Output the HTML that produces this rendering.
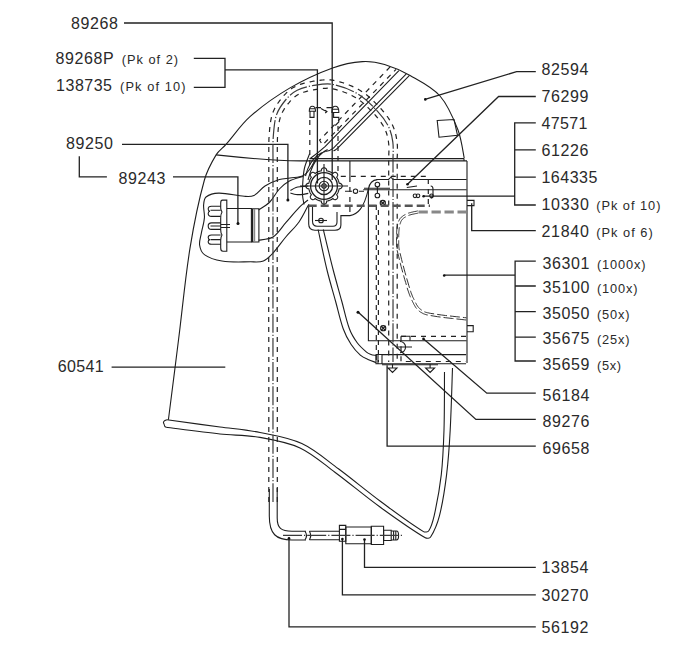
<!DOCTYPE html>
<html><head><meta charset="utf-8">
<style>
html,body{margin:0;padding:0;background:#fff;}
body{width:689px;height:645px;overflow:hidden;}
svg{display:block;}
text{font-family:"Liberation Sans",sans-serif;fill:#2a2a2a;}
.n{font-size:16px;}
.s{font-size:12.8px;}
.L{fill:none;stroke:#222;stroke-width:1.3;}
.d{fill:none;stroke:#1e1e1e;stroke-width:1.1;}
.ds{fill:none;stroke:#222;stroke-width:1.2;stroke-dasharray:5 5;}
.dd{fill:none;stroke:#3a3a3a;stroke-width:1.2;stroke-dasharray:19 2 1.2 2;}
.tk{fill:none;stroke:#888;stroke-width:3;stroke-dasharray:8 4;}
</style></head><body>
<svg width="689" height="645" viewBox="0 0 689 645">
<!-- LABELS -->
<g class="n">
<text x="71" y="28.9" textLength="47" lengthAdjust="spacing">89268</text>
<text x="55.4" y="63.5" textLength="58.2" lengthAdjust="spacing">89268P</text>
<text x="56.1" y="90.7" textLength="55.9" lengthAdjust="spacing">138735</text>
<text x="66" y="149.3" textLength="47" lengthAdjust="spacing">89250</text>
<text x="118.5" y="184.3" textLength="46.8" lengthAdjust="spacing">89243</text>
<text x="57.7" y="371.8" textLength="46" lengthAdjust="spacing">60541</text>
<text x="541.4" y="75.0" textLength="47.1" lengthAdjust="spacing">82594</text>
<text x="541.4" y="102.0" textLength="47.1" lengthAdjust="spacing">76299</text>
<text x="541.4" y="129.2" textLength="46" lengthAdjust="spacing">47571</text>
<text x="541.4" y="155.9" textLength="47.1" lengthAdjust="spacing">61226</text>
<text x="541.4" y="183.4" textLength="56" lengthAdjust="spacing">164335</text>
<text x="541.5" y="209.6" textLength="47.3" lengthAdjust="spacing">10330</text>
<text x="541.5" y="236.9" textLength="47.3" lengthAdjust="spacing">21840</text>
<text x="542.4" y="268.7" textLength="47" lengthAdjust="spacing">36301</text>
<text x="542.4" y="293.2" textLength="47" lengthAdjust="spacing">35100</text>
<text x="542.4" y="318.7" textLength="47" lengthAdjust="spacing">35050</text>
<text x="542.4" y="344.2" textLength="47" lengthAdjust="spacing">35675</text>
<text x="542.4" y="369.7" textLength="47" lengthAdjust="spacing">35659</text>
<text x="542.4" y="401.1" textLength="47" lengthAdjust="spacing">56184</text>
<text x="542.4" y="427.0" textLength="47" lengthAdjust="spacing">89276</text>
<text x="542.4" y="453.7" textLength="47" lengthAdjust="spacing">69658</text>
<text x="541.5" y="573.0" textLength="47" lengthAdjust="spacing">13854</text>
<text x="541.5" y="601.0" textLength="47" lengthAdjust="spacing">30270</text>
<text x="541.5" y="633.0" textLength="47" lengthAdjust="spacing">56192</text>
</g>
<g class="s">
<text x="121.8" y="63.5" textLength="56.2" lengthAdjust="spacing">(Pk of 2)</text>
<text x="120.1" y="90.7" textLength="65.3" lengthAdjust="spacing">(Pk of 10)</text>
<text x="596.2" y="209.6" textLength="64.2" lengthAdjust="spacing">(Pk of 10)</text>
<text x="596.2" y="236.9" textLength="56.5" lengthAdjust="spacing">(Pk of 6)</text>
<text x="597" y="268.7" textLength="48.5" lengthAdjust="spacing">(1000x)</text>
<text x="597" y="293.2" textLength="40.5" lengthAdjust="spacing">(100x)</text>
<text x="597" y="318.7" textLength="32.5" lengthAdjust="spacing">(50x)</text>
<text x="597" y="344.2" textLength="32.5" lengthAdjust="spacing">(25x)</text>
<text x="597" y="369.7" textLength="24" lengthAdjust="spacing">(5x)</text>
</g>
<!-- LEADERS -->
<g class="L">
<path d="M124,23H332.2V180"/>
<path d="M193.8,58.3H225V87.3H193.8M225,69.8H317.4V183.5"/>
<path d="M122,144.3H287.9V199.7"/>
<path d="M79.3,156.2V176.8H106.9M173,176.8H237.9V223.5"/>
<path d="M111.6,367.1H225.3"/>
<path d="M425,99.3L516.6,71.7H535.8"/>
<path d="M407.5,184.3L498.6,96.5H535.8"/>
<path d="M535.8,122.9H514.7V205H535.8M514.7,149.8H535.8M514.7,177.1H535.8M423.6,196.2H514.7"/>
<path d="M471.7,203.2V230.6H535.8"/>
<path d="M535.8,261.1H515.1V361H535.8M515.1,286H535.8M515.1,311.6H535.8M515.1,337.2H535.8M444.3,275.1H515.1"/>
<path d="M423.6,339L486.8,393.2H535.8"/>
<path d="M358,312L475.9,419.4H535.8"/>
<path d="M387.1,365.3V446.1H535.8"/>
<path d="M364.5,539.5V567.3H535.8"/>
<path d="M342.4,539V594.8H535.8"/>
<path d="M289,538.3V626.9H535.8"/>
</g>

<!-- DRAWING -->
<g fill="#111">
<circle cx="238" cy="223.4" r="1.5"/>
<circle cx="287.9" cy="200" r="1.5"/>
<circle cx="425.3" cy="99.4" r="1.3"/>
<circle cx="407.5" cy="184.3" r="1.3"/>
<circle cx="423.6" cy="196.2" r="1.3"/>
<circle cx="444.2" cy="275.5" r="1.3"/>
<circle cx="423.5" cy="338.9" r="1.3"/>
<circle cx="358" cy="312.3" r="1.5"/>
<circle cx="289" cy="538.3" r="1.3"/>
<circle cx="342.4" cy="539" r="1.3"/>
<circle cx="364.5" cy="539.5" r="1.3"/>
</g>
<g class="d">
<!-- shell outline -->
<path d="M168.4,419.8C170.1,406.5 175.2,366.6 178.5,340.0C182.4,309.4 185.1,278.6 190.0,248.2C193.7,225.3 198.2,202.3 204.4,180.0C206.9,171.2 211.4,162.7 216.1,154.9C218.5,150.9 222.7,148.2 225.8,144.7C234.0,135.5 240.8,124.8 250.0,116.7C262.2,105.9 275.9,96.2 290.0,87.9C303.4,80.0 317.9,73.2 332.6,67.9C342.1,64.5 352.4,62.3 362.4,61.6C369.7,61.1 377.5,62.4 384.6,64.5C393.4,67.1 402.1,71.0 410.1,75.6C420.5,81.5 432.3,87.2 440.0,96.0C448.2,105.3 453.4,118.2 458.0,130.0C461.4,138.8 463.2,153.3 464.2,158.0"/>
<!-- brim -->
<path d="M216.1,154.9C240,157.5 270,160.5 300,160.9H467"/>
<path d="M309.5,158.6H464.2M464,161V158.5M467,161V363"/>
<!-- window on shell -->
<path d="M437.2,120.5L454,119.5L457.5,135.3L439,137.2Z"/>
<!-- visor band -->
<path d="M398.9,70.7L325.3,146.4Q318,153 310.5,158.3M406.3,73.9L333.4,148.1Q330,151 325.4,151.5M409.5,75.3L337.7,148.1Q335,150.7 333.4,150.7"/>
<path d="M305.5,176Q309,162 317.4,155.4Q321,152.5 325.4,151.5M308,180Q312,164 319.6,155.4Q323,151.5 327.6,149.6"/>

<!-- clip -->
<path d="M309.3,111.2Q309.3,106.2 312.4,106.2Q315.5,106.2 315.5,111.2ZM309.6,108.8H315.3M310,111.2V117.4H314V111.2"/>
<path d="M315.5,107.6H321M326.5,107.6H332M321,108.5Q324,110.5 327,111.5M325,110.2L327,111.5L325.2,113"/>
<path d="M331.9,111.5Q331.9,106.2 335.3,106.2Q338.8,106.2 338.8,111.5V112.5H331.9ZM332,109.3H338.7M333.6,112.5V117.4H338.8V122L335.3,125.5"/>
<!-- valve -->
<circle cx="324" cy="186" r="13.4" style="stroke-width:1.3"/>
<circle cx="324" cy="186" r="8.6" style="stroke-width:1.3"/>
<circle cx="324" cy="186" r="4.8"/>
<circle cx="324" cy="186" r="2.2"/>
<path d="M300,186H348M324,164V207"/>
<circle cx="355.5" cy="191.2" r="2.2"/>
<path d="M345,191.2H352M359,191.2H364"/>
<path d="M342.2,186.0 L342.2,186.4 L342.1,186.7 L342.0,187.1 L341.8,187.4 L341.6,187.7 L341.3,188.0 L340.9,188.3 L340.3,188.6 L339.2,188.7 L339.1,189.0 L339.0,189.3 L339.0,189.6 L338.9,189.9 L338.8,190.2 L338.7,190.5 L338.6,190.8 L338.6,191.0 L338.4,191.3 L338.3,191.6 L338.2,191.9 L338.1,192.2 L338.0,192.4 L337.9,192.7 L337.7,193.0 L337.6,193.3 L337.4,193.5 L337.3,193.8 L337.1,194.0 L337.0,194.3 L336.8,194.6 L336.6,194.8 L337.3,195.7 L337.6,196.3 L337.7,196.8 L337.7,197.2 L337.6,197.6 L337.5,198.0 L337.3,198.3 L337.1,198.6 L336.9,198.9 L336.6,199.1 L336.3,199.3 L336.0,199.5 L335.6,199.6 L335.2,199.7 L334.8,199.7 L334.3,199.6 L333.7,199.3 L332.8,198.6 L332.6,198.8 L332.3,199.0 L332.0,199.1 L331.8,199.3 L331.5,199.4 L331.3,199.6 L331.0,199.7 L330.7,199.9 L330.4,200.0 L330.2,200.1 L329.9,200.2 L329.6,200.3 L329.3,200.4 L329.0,200.6 L328.8,200.6 L328.5,200.7 L328.2,200.8 L327.9,200.9 L327.6,201.0 L327.3,201.0 L327.0,201.1 L326.7,201.2 L326.6,202.3 L326.3,202.9 L326.0,203.3 L325.7,203.6 L325.4,203.8 L325.1,204.0 L324.7,204.1 L324.4,204.2 L324.0,204.2 L323.6,204.2 L323.3,204.1 L322.9,204.0 L322.6,203.8 L322.3,203.6 L322.0,203.3 L321.7,202.9 L321.4,202.3 L321.3,201.2 L321.0,201.1 L320.7,201.0 L320.4,201.0 L320.1,200.9 L319.8,200.8 L319.5,200.7 L319.2,200.6 L319.0,200.6 L318.7,200.4 L318.4,200.3 L318.1,200.2 L317.8,200.1 L317.6,200.0 L317.3,199.9 L317.0,199.7 L316.7,199.6 L316.5,199.4 L316.2,199.3 L316.0,199.1 L315.7,199.0 L315.4,198.8 L315.2,198.6 L314.3,199.3 L313.7,199.6 L313.2,199.7 L312.8,199.7 L312.4,199.6 L312.0,199.5 L311.7,199.3 L311.4,199.1 L311.1,198.9 L310.9,198.6 L310.7,198.3 L310.5,198.0 L310.4,197.6 L310.3,197.2 L310.3,196.8 L310.4,196.3 L310.7,195.7 L311.4,194.8 L311.2,194.6 L311.0,194.3 L310.9,194.0 L310.7,193.8 L310.6,193.5 L310.4,193.3 L310.3,193.0 L310.1,192.7 L310.0,192.4 L309.9,192.2 L309.8,191.9 L309.7,191.6 L309.6,191.3 L309.4,191.0 L309.4,190.8 L309.3,190.5 L309.2,190.2 L309.1,189.9 L309.0,189.6 L309.0,189.3 L308.9,189.0 L308.8,188.7 L307.7,188.6 L307.1,188.3 L306.7,188.0 L306.4,187.7 L306.2,187.4 L306.0,187.1 L305.9,186.7 L305.8,186.4 L305.8,186.0 L305.8,185.6 L305.9,185.3 L306.0,184.9 L306.2,184.6 L306.4,184.3 L306.7,184.0 L307.1,183.7 L307.7,183.4 L308.8,183.3 L308.9,183.0 L309.0,182.7 L309.0,182.4 L309.1,182.1 L309.2,181.8 L309.3,181.5 L309.4,181.2 L309.4,181.0 L309.6,180.7 L309.7,180.4 L309.8,180.1 L309.9,179.8 L310.0,179.6 L310.1,179.3 L310.3,179.0 L310.4,178.7 L310.6,178.5 L310.7,178.2 L310.9,178.0 L311.0,177.7 L311.2,177.4 L311.4,177.2 L310.7,176.3 L310.4,175.7 L310.3,175.2 L310.3,174.8 L310.4,174.4 L310.5,174.0 L310.7,173.7 L310.9,173.4 L311.1,173.1 L311.4,172.9 L311.7,172.7 L312.0,172.5 L312.4,172.4 L312.8,172.3 L313.2,172.3 L313.7,172.4 L314.3,172.7 L315.2,173.4 L315.4,173.2 L315.7,173.0 L316.0,172.9 L316.2,172.7 L316.5,172.6 L316.7,172.4 L317.0,172.3 L317.3,172.1 L317.6,172.0 L317.8,171.9 L318.1,171.8 L318.4,171.7 L318.7,171.6 L319.0,171.4 L319.2,171.4 L319.5,171.3 L319.8,171.2 L320.1,171.1 L320.4,171.0 L320.7,171.0 L321.0,170.9 L321.3,170.8 L321.4,169.7 L321.7,169.1 L322.0,168.7 L322.3,168.4 L322.6,168.2 L322.9,168.0 L323.3,167.9 L323.6,167.8 L324.0,167.8 L324.4,167.8 L324.7,167.9 L325.1,168.0 L325.4,168.2 L325.7,168.4 L326.0,168.7 L326.3,169.1 L326.6,169.7 L326.7,170.8 L327.0,170.9 L327.3,171.0 L327.6,171.0 L327.9,171.1 L328.2,171.2 L328.5,171.3 L328.8,171.4 L329.0,171.4 L329.3,171.6 L329.6,171.7 L329.9,171.8 L330.2,171.9 L330.4,172.0 L330.7,172.1 L331.0,172.3 L331.3,172.4 L331.5,172.6 L331.8,172.7 L332.0,172.9 L332.3,173.0 L332.6,173.2 L332.8,173.4 L333.7,172.7 L334.3,172.4 L334.8,172.3 L335.2,172.3 L335.6,172.4 L336.0,172.5 L336.3,172.7 L336.6,172.9 L336.9,173.1 L337.1,173.4 L337.3,173.7 L337.5,174.0 L337.6,174.4 L337.7,174.8 L337.7,175.2 L337.6,175.7 L337.3,176.3 L336.6,177.2 L336.8,177.4 L337.0,177.7 L337.1,178.0 L337.3,178.2 L337.4,178.5 L337.6,178.7 L337.7,179.0 L337.9,179.3 L338.0,179.6 L338.1,179.8 L338.2,180.1 L338.3,180.4 L338.4,180.7 L338.6,181.0 L338.6,181.2 L338.7,181.5 L338.8,181.8 L338.9,182.1 L339.0,182.4 L339.0,182.7 L339.1,183.0 L339.2,183.3 L340.3,183.4 L340.9,183.7 L341.3,184.0 L341.6,184.3 L341.8,184.6 L342.0,184.9 L342.1,185.3 L342.2,185.6Z"/>
<!-- bracket -->
<path d="M308.7,204.4V224Q308.7,230.2 315,230.2H335Q340.9,230.2 340.9,225V215.6H350"/>
<path d="M312.5,206V221Q312.5,226.2 317,226.2H333Q337,226.2 337,222V212"/>
<circle cx="321" cy="220.5" r="2.3"/>
<path d="M315,220.5H327"/>
<path d="M350,215.6C358,214 364,208 368.4,189Q370,180 377.4,179.6"/>
<!-- vertical near valve -->
<path d="M349.9,161V177"/><path class="ds" d="M349.9,177V215"/>
<!-- faceshield frame -->
<path d="M368.4,189V340.8H466.6"/>
<path d="M376.3,179.5H388.5L391,177.2L393,179.5H466.6M363.2,189.7H466.6M364,188.2H390"/>
<circle cx="377.4" cy="184.6" r="2.3"/>
<circle cx="377.4" cy="195.5" r="2.3"/>
<path d="M377.4,186.9V193.2"/>
<circle cx="382.8" cy="203" r="2.6"/>
<path d="M380.5,201L385,205M385,201L380.5,205"/>
<circle cx="383.2" cy="328.2" r="2.6"/>
<path d="M381,326L385.5,330.5M385.5,326L381,330.5"/>
<circle cx="415" cy="195.8" r="1.8"/><circle cx="418" cy="195.8" r="1.8"/>
<circle cx="431.5" cy="195.8" r="1.8"/>
<path d="M430.7,186Q433,186 433,189V196Q433,198 430.7,198M406.8,187.5L417,186"/>

<path d="M467,325.6H473.2V331.7H467"/>
<path d="M467,200.4H474V205.6H467"/>
<!-- window double line -->
<path style="stroke-dasharray:10 3;stroke-width:0.9" d="M418.2,213.1 L417.7,213.2 L417.1,213.3 L416.4,213.5 L415.6,213.6 L414.7,213.8 L413.8,214.0 L412.8,214.2 L411.9,214.4 L410.9,214.7 L410.0,214.9 L409.2,215.2 L408.4,215.5 L407.8,215.8 L407.2,216.0 L406.6,216.3 L406.0,216.6 L405.4,217.0 L404.8,217.3 L404.3,217.7 L403.8,218.0 L403.3,218.4 L402.8,218.8 L402.4,219.2 L402.1,219.7 L401.7,220.2 L401.4,220.7 L401.1,221.2 L400.8,221.8 L400.6,222.5 L400.4,223.1 L400.1,223.8 L400.0,224.4 L399.8,225.1 L399.6,225.8 L399.5,226.5 L399.4,227.2 L399.2,228.2 L399.1,229.3 L399.0,230.3 L398.9,231.4 L398.8,232.4 L398.8,233.5 L398.8,234.6 L398.7,235.7 L398.7,236.7 L398.7,237.8 L398.7,238.9 L398.7,240.0 L398.7,240.8 L398.7,241.7 L398.7,242.5 L398.7,243.3 L398.7,244.2 L398.7,245.0 L398.8,245.8 L398.8,246.6 L398.9,247.4 L399.0,248.2 L399.1,249.0 L399.3,249.8 L400.0,253.0 L400.8,256.2 L401.6,259.5 L402.4,262.7 L403.3,265.9 L404.1,269.1 L405.0,272.4 L405.9,275.6 L406.8,278.8 L407.8,282.0 L408.7,285.2 L409.7,288.4 L409.9,289.3 L410.2,290.3 L410.6,291.2 L410.9,292.2 L411.2,293.1 L411.6,294.0 L412.0,295.0 L412.3,295.9 L412.7,296.8 L413.1,297.7 L413.6,298.6 L414.0,299.5 L414.4,300.3 L414.8,301.1 L415.2,301.9 L415.5,302.7 L416.0,303.5 L416.4,304.3 L416.8,305.0 L417.3,305.7 L417.7,306.4 L418.2,307.0 L418.7,307.6 L419.3,308.2 L419.8,308.7 L420.4,309.2 L421.0,309.7 L421.7,310.2 L422.4,310.6 L423.0,311.0 L423.8,311.4 L424.5,311.8 L425.2,312.1 L425.9,312.3 L426.7,312.5 L427.4,312.7 L430.7,313.4 L434.2,313.9 L437.9,314.5 L441.7,315.0 L445.5,315.5 L449.2,315.9 L452.8,316.3 L456.2,316.7 L459.3,317.0 L462.1,317.3 L464.5,317.6 L466.4,317.8"/>
<path style="stroke-dasharray:10 3;stroke-width:0.9" d="M417.8,210.9 L417.3,211.0 L416.7,211.2 L416.0,211.3 L415.1,211.5 L414.3,211.6 L413.3,211.8 L412.3,212.1 L411.3,212.3 L410.4,212.6 L409.4,212.8 L408.5,213.1 L407.6,213.5 L406.9,213.8 L406.3,214.1 L405.6,214.4 L405.0,214.7 L404.3,215.1 L403.7,215.4 L403.1,215.8 L402.5,216.3 L401.9,216.7 L401.3,217.2 L400.8,217.8 L400.3,218.3 L399.9,218.9 L399.5,219.6 L399.1,220.3 L398.8,221.0 L398.5,221.7 L398.3,222.4 L398.0,223.2 L397.8,223.9 L397.6,224.6 L397.5,225.4 L397.3,226.1 L397.2,226.8 L397.0,227.9 L396.9,229.0 L396.8,230.1 L396.7,231.2 L396.6,232.3 L396.6,233.4 L396.6,234.5 L396.5,235.6 L396.5,236.7 L396.5,237.8 L396.5,238.9 L396.5,240.0 L396.5,240.8 L396.5,241.7 L396.5,242.5 L396.5,243.4 L396.5,244.2 L396.5,245.1 L396.6,245.9 L396.6,246.8 L396.7,247.7 L396.8,248.5 L397.0,249.4 L397.1,250.2 L397.9,253.5 L398.7,256.7 L399.5,260.0 L400.3,263.2 L401.1,266.5 L402.0,269.7 L402.9,272.9 L403.8,276.2 L404.7,279.4 L405.7,282.6 L406.6,285.8 L407.5,289.0 L407.8,290.0 L408.2,291.0 L408.5,291.9 L408.8,292.9 L409.2,293.9 L409.5,294.8 L409.9,295.8 L410.3,296.7 L410.7,297.7 L411.1,298.6 L411.6,299.6 L412.0,300.5 L412.4,301.3 L412.8,302.1 L413.2,302.9 L413.6,303.7 L414.0,304.5 L414.5,305.3 L414.9,306.1 L415.4,306.9 L415.9,307.7 L416.5,308.4 L417.1,309.1 L417.7,309.8 L418.4,310.4 L419.0,310.9 L419.7,311.5 L420.4,312.0 L421.2,312.5 L422.0,312.9 L422.8,313.4 L423.6,313.8 L424.4,314.1 L425.3,314.4 L426.1,314.7 L427.0,314.9 L430.3,315.5 L433.9,316.1 L437.6,316.7 L441.4,317.2 L445.2,317.7 L449.0,318.1 L452.6,318.5 L456.0,318.9 L459.1,319.2 L461.9,319.5 L464.3,319.8 L466.2,320.0"/>
<!-- bottom bar -->
<path d="M382,354.6H466.1M382,363.8H466.1M376,354.5H382V363.8H376ZM378,354.5V363.8"/>
<path d="M401,336.3H410V340.8"/>
<path d="M392.5,364V368M388,368H397L392.5,372.5ZM430.1,364V368M425.6,368H434.6L430.1,372.5Z"/>
<path d="M382,364.8H438"/>
<path d="M400,341.5A5.6,5.6 0 0 1 400,352.7M398,347H412"/>
<!-- rods -->
<path d="M318.1,229.5C319.6,236.2 323.7,256.6 327.0,270.0C329.5,280.4 332.7,290.7 335.5,301.0C338.1,310.3 340.0,319.8 343.2,328.8C345.1,334.2 347.9,339.5 351.0,344.3C353.6,348.3 356.8,352.1 360.3,355.2C362.5,357.1 365.3,358.3 368.0,359.5C370.6,360.7 374.7,362.0 376.0,362.5"/>
<path d="M323.3,229.5C324.9,236.2 329.7,256.5 333.2,270.0C335.9,280.4 338.9,290.7 341.7,301.0C344.3,310.3 346.1,319.8 349.4,328.8C351.2,333.8 354.1,338.5 357.2,342.8C359.8,346.3 363.2,349.3 366.5,352.1C367.8,353.2 369.4,353.9 371.0,354.5C372.6,355.1 375.2,355.3 376.0,355.5"/>
<!-- hem + right loop -->
<path d="M167.0,419.8C175.8,421.0 202.3,424.6 220.0,427.0C233.3,428.8 246.8,429.8 260.0,432.5C274.1,435.3 288.9,437.5 301.8,443.5C315.1,449.6 326.5,460.0 338.4,468.8C352.5,479.2 365.9,490.6 380.0,501.0C394.3,511.5 408.7,522.6 423.5,531.6C425.0,532.5 427.9,532.0 428.8,530.7C431.5,526.7 433.0,520.8 434.2,515.6C437.2,502.1 439.7,488.4 441.3,474.6C443.0,459.8 443.5,444.9 444.0,430.0C444.6,410.7 444.4,381.7 444.5,372.0"/>
<path d="M166.1,427.3C175.1,428.4 202.0,432.1 220.0,434.0C233.3,435.4 246.9,435.1 260.0,437.4C273.5,439.8 287.7,442.2 300.0,447.9C312.7,453.8 323.5,463.8 334.9,472.2C350.2,483.5 364.6,495.9 380.0,507.0C394.8,517.7 409.9,528.7 425.3,537.8C426.8,538.7 429.7,538.4 430.6,537.0C434.4,531.0 437.6,523.0 439.5,515.6C442.9,502.2 444.9,488.3 446.6,474.6C448.4,459.8 449.4,444.9 450.2,430.0C451.3,409.4 452.1,378.3 452.5,368.0"/>
<path d="M167,419.8Q162,421 164,424Q164.5,427 166.1,427.3"/>
<!-- blob -->
<path d="M317.0,155.6C316.1,157.4 313.8,163.3 311.5,166.7C309.2,170.1 306.5,174.0 303.0,175.8C299.3,177.7 294.3,177.3 290.0,178.0C286.5,178.6 282.8,178.5 279.4,179.6C274.4,181.2 269.4,183.2 265.0,186.0C260.9,188.5 258.1,193.4 253.9,195.5C251.2,196.9 247.5,196.5 244.3,196.3C235.8,195.7 227.1,192.9 218.7,193.1C214.4,193.2 209.1,194.6 206.0,197.0C204.1,198.5 203.8,202.3 203.6,205.0C203.3,209.2 204.8,213.6 204.4,217.9C204.0,223.3 202.1,228.5 201.2,233.9C200.5,237.6 199.1,241.5 199.6,245.0C200.1,248.4 201.7,252.7 204.4,254.6C209.1,258.0 215.9,260.1 222.0,261.0C231.3,262.5 241.1,261.8 250.7,261.8C254.9,261.8 259.6,262.5 263.4,261.0C267.1,259.5 270.2,256.0 273.0,253.0C277.6,248.0 281.4,242.2 285.8,237.0C290.1,231.9 295.2,227.4 299.0,222.0C302.8,216.6 307.1,207.3 308.7,204.4"/>
<!-- filter -->
<path d="M226.8,208.5H251.4V242H226.8"/>
<path d="M251.4,208.8H258.9V242H251.4"/>
<path d="M252.5,209V242" style="stroke-width:1.5"/><path d="M254.5,209V242" style="stroke:#888;stroke-width:1.4"/>
<path d="M226.8,200.1H222.5Q220.7,200.1 220.7,203V208Q220.7,210 222,212Q220.7,214 220.7,218V230Q220.7,233 222,235Q220.7,237 220.7,240V248Q220.7,251.3 223,251.3H226.8Z"/>
<path d="M220.7,206.2H211.5Q208.2,206.2 208.2,209Q208.2,211.2 210,211.3Q208.2,211.5 208.2,213.5Q208.2,216.4 211.5,216.4H220.7M210.5,210.2H220.7"/>
<path d="M220.7,222.9H211.5Q208.2,222.9 208.2,226Q208.2,229.4 211.5,229.4H220.7M210.5,226H220.7"/>
<path d="M220.7,235H211.5Q208.2,235 208.2,237.5Q208.2,239.5 210,239.6Q208.2,239.8 208.2,241.5Q208.2,244.3 211.5,244.3H220.7M210.5,239.6H220.7"/>
<path d="M221,224.5H230M221,227.5H230"/>
<path d="M258.6,210.0C260.5,208.7 266.6,205.2 269.8,202.0C273.5,198.2 275.8,192.9 279.4,189.0C282.2,186.0 285.4,183.1 289.0,181.2C293.3,178.9 300.7,177.2 303.0,176.4"/>
<path d="M258.6,240.2C261.0,239.7 269.1,239.5 273.0,237.0C278.1,233.7 281.5,227.5 285.8,222.7C290.5,217.4 295.0,211.8 300.0,206.7C302.4,204.2 306.7,201.1 308.0,200.0"/>
<path d="M290.4,190.5C291.3,190.0 294.0,188.2 296.0,187.5C297.6,186.9 299.3,186.8 301.0,186.6C303.4,186.3 307.1,186.1 308.3,186.0"/>
<path d="M290.4,193.0C291.3,193.2 294.1,194.2 296.0,194.5C297.6,194.7 299.3,194.7 301.0,194.6C303.4,194.4 307.1,193.6 308.3,193.4"/>

<path d="M309.6,153.7C308.8,156.1 305.7,163.1 304.5,168.0C303.4,172.6 303.2,177.5 302.8,182.2C302.5,186.5 302.3,190.8 302.5,195.0C302.7,198.2 303.8,202.9 304.0,204.5"/>
<!-- tube bottom -->
<path d="M269.3,489V516C269.3,534 276,540 292,540H306"/>
<path d="M277.2,488V518C277.2,528 281,531.3 292,531.3H306"/>
<path d="M305,531.3Q308,535.6 305,539.8M309.4,531.3Q312,535.6 309.4,539.8"/>
<path d="M309.4,531.3H339.4M309.4,539.8H339.4"/>
<path d="M339.4,525.4H345.8V541.3H339.4ZM339.4,529.4H345.8"/>
<path d="M345.8,527H371.3V543.7H345.8Z"/>
<path d="M371.3,526.2H383.6V544.5H371.3Z"/>
<path d="M383.6,530.2H391.2V540.5H383.6Z"/>
<path d="M391.2,531H396.5Q398.6,531 398.6,535.6Q398.6,540 396.5,540H391.2M393.6,531V540M395.8,531V540"/>
</g>
<g class="ds">
<path d="M268.8,502.0 L268.8,485.5 L268.8,464.8 L268.8,440.5 L268.8,413.3 L268.8,383.7 L268.8,352.4 L268.7,319.8 L268.7,286.7 L268.7,253.5 L268.8,221.0 L268.8,189.6 L268.8,160.0 L268.8,157.9 L268.8,155.9 L268.8,153.8 L268.8,151.7 L268.8,149.6 L268.8,147.5 L268.8,145.3 L268.8,143.2 L268.9,141.1 L268.9,139.0 L269.1,136.8 L269.2,134.7 L269.4,132.9 L269.5,131.2 L269.6,129.4 L269.8,127.6 L270.0,125.8 L270.2,124.0 L270.5,122.1 L270.8,120.3 L271.2,118.5 L271.6,116.6 L272.1,114.8 L272.7,113.0 L273.3,111.5 L274.0,110.0 L274.7,108.5 L275.5,107.1 L276.3,105.7 L277.1,104.3 L278.0,103.0 L279.0,101.7 L279.9,100.4 L280.9,99.2 L281.8,98.0 L282.8,96.8 L283.6,95.8 L284.5,94.8 L285.5,93.9 L286.4,92.9 L287.4,92.0 L288.4,91.1 L289.5,90.2 L290.6,89.3 L291.7,88.5 L292.9,87.8 L294.1,87.1 L295.4,86.4 L297.0,85.7 L298.6,85.0 L300.2,84.4 L301.9,83.9 L303.5,83.4 L305.2,82.9 L306.9,82.5 L308.6,82.2 L310.2,81.8 L311.9,81.5 L313.5,81.2 L315.1,81.0 L316.6,80.7 L318.0,80.5 L319.5,80.3 L321.1,80.1 L322.6,80.0 L324.2,79.8 L325.8,79.8 L327.4,79.7 L329.0,79.8 L330.6,79.9 L332.2,80.1 L333.8,80.4 L336.1,80.9 L338.4,81.5 L340.6,82.1 L342.9,82.8 L345.1,83.5 L347.4,84.3 L349.6,85.2 L351.8,86.1 L353.9,87.1 L356.1,88.1 L358.1,89.2 L360.2,90.4 L362.1,91.7 L364.1,93.0 L365.9,94.4 L367.7,95.8 L369.5,97.4 L371.2,98.9 L372.9,100.5 L374.5,102.1 L376.1,103.7 L377.6,105.3 L379.2,106.9 L380.7,108.5 L381.8,109.7 L382.9,111.0 L383.9,112.2 L385.0,113.5 L386.0,114.8 L387.0,116.2 L388.0,117.5 L388.9,118.9 L389.8,120.3 L390.7,121.8 L391.5,123.2 L392.3,124.7 L392.9,126.0 L393.5,127.4 L394.0,128.7 L394.5,130.1 L394.9,131.5 L395.3,132.9 L395.7,134.3 L396.0,135.7 L396.3,137.1 L396.5,138.5 L396.8,139.9 L397.0,141.3 L397.2,142.9 L397.3,144.5 L397.4,146.1 L397.4,147.8 L397.4,149.3 L397.4,150.9 L397.4,152.5 L397.3,154.0 L397.3,155.6 L397.2,157.1 L397.2,158.5 L397.2,160.0 L397.2,177.5 L397.2,196.0 L397.2,215.2 L397.2,234.8 L397.2,254.4 L397.2,273.6 L397.2,292.2 L397.2,309.6 L397.2,325.7 L397.2,340.0 L397.2,352.2 L397.2,362.0"/>
<path d="M277.3,502.0 L277.3,485.5 L277.3,464.8 L277.3,440.5 L277.3,413.3 L277.3,383.7 L277.3,352.4 L277.2,319.8 L277.2,286.7 L277.2,253.5 L277.3,221.0 L277.3,189.6 L277.3,160.0 L277.3,157.9 L277.3,155.8 L277.3,153.7 L277.3,151.6 L277.3,149.6 L277.3,147.5 L277.3,145.4 L277.3,143.4 L277.4,141.4 L277.4,139.4 L277.5,137.3 L277.7,135.3 L277.8,133.6 L278.0,131.9 L278.1,130.2 L278.3,128.4 L278.5,126.8 L278.7,125.1 L278.9,123.5 L279.2,121.9 L279.5,120.3 L279.9,118.8 L280.3,117.3 L280.8,115.8 L281.2,114.7 L281.7,113.5 L282.3,112.4 L282.9,111.2 L283.6,110.1 L284.3,108.9 L285.0,107.8 L285.8,106.6 L286.7,105.5 L287.5,104.4 L288.4,103.3 L289.3,102.3 L290.0,101.4 L290.8,100.6 L291.5,99.8 L292.3,99.0 L293.1,98.2 L294.0,97.5 L294.8,96.8 L295.6,96.2 L296.5,95.6 L297.4,95.0 L298.2,94.5 L299.1,94.1 L300.3,93.5 L301.7,93.0 L303.0,92.5 L304.4,92.0 L305.9,91.6 L307.3,91.2 L308.8,90.8 L310.3,90.5 L311.9,90.2 L313.4,89.9 L314.9,89.6 L316.5,89.3 L317.9,89.1 L319.3,88.9 L320.6,88.7 L322.0,88.6 L323.4,88.4 L324.7,88.3 L326.0,88.3 L327.3,88.2 L328.6,88.3 L329.8,88.4 L331.0,88.5 L332.1,88.7 L334.2,89.2 L336.2,89.7 L338.3,90.2 L340.3,90.9 L342.4,91.5 L344.4,92.3 L346.4,93.0 L348.4,93.9 L350.3,94.7 L352.2,95.7 L354.0,96.7 L355.8,97.7 L357.4,98.7 L359.1,99.9 L360.7,101.1 L362.3,102.4 L363.9,103.7 L365.4,105.1 L367.0,106.6 L368.5,108.1 L370.0,109.6 L371.5,111.2 L373.0,112.8 L374.5,114.3 L375.5,115.4 L376.4,116.5 L377.4,117.7 L378.3,118.8 L379.2,120.0 L380.1,121.2 L381.0,122.4 L381.8,123.6 L382.6,124.8 L383.3,126.0 L384.0,127.3 L384.7,128.5 L385.1,129.5 L385.6,130.6 L386.0,131.7 L386.4,132.8 L386.8,134.0 L387.1,135.1 L387.4,136.3 L387.7,137.5 L387.9,138.7 L388.2,139.9 L388.4,141.2 L388.5,142.3 L388.7,143.7 L388.8,145.1 L388.9,146.5 L388.9,147.9 L388.9,149.3 L388.9,150.8 L388.9,152.3 L388.8,153.8 L388.8,155.3 L388.7,156.9 L388.7,158.4 L388.7,160.0 L388.7,177.5 L388.7,196.0 L388.7,215.2 L388.7,234.8 L388.7,254.4 L388.7,273.6 L388.7,292.2 L388.7,309.6 L388.7,325.7 L388.7,340.0 L388.7,352.2 L388.7,362.0"/>
<path d="M376.3,205V362"/><path d="M378.4,210V362"/>
<path d="M309.8,120V170M338,126V172"/>
<path d="M340.8,176.4H428.3V205.8"/>
<path d="M401,336.3H466M401,336.3V361.5H466"/>
<path d="M390.1,66.9L319.6,140.2L322.5,145L396,69.4"/>
</g>
<g class="dd">
<path d="M273.0,502.0C273.0,445.0 272.9,274.0 273.0,160.0C273.0,151.7 272.7,143.3 273.4,135.0C274.0,128.1 274.4,120.8 276.7,114.4C278.6,109.0 282.3,103.9 286.0,99.5C289.1,95.8 292.9,92.3 297.2,90.2C302.9,87.5 309.5,86.1 315.8,85.1C321.4,84.2 327.5,83.3 333.0,84.5C341.6,86.3 350.5,89.5 358.0,94.0C365.4,98.4 371.7,105.1 377.6,111.4C381.8,115.9 385.8,121.1 388.5,126.6C390.8,131.2 392.1,136.6 392.8,141.8C393.6,147.8 393.0,153.9 393.0,160.0C393.1,227.3 393.0,328.3 393.0,362.0"/>
<path d="M283,535.3H403"/>
</g>
<path class="tk" d="M308.7,205.8H430" style="stroke-width:2.5;stroke:#555"/>
<path class="tk" style="stroke-dasharray:9.3 3.7;stroke-width:2.8" d="M418.5,212H466.3"/>

</svg>
</body></html>
